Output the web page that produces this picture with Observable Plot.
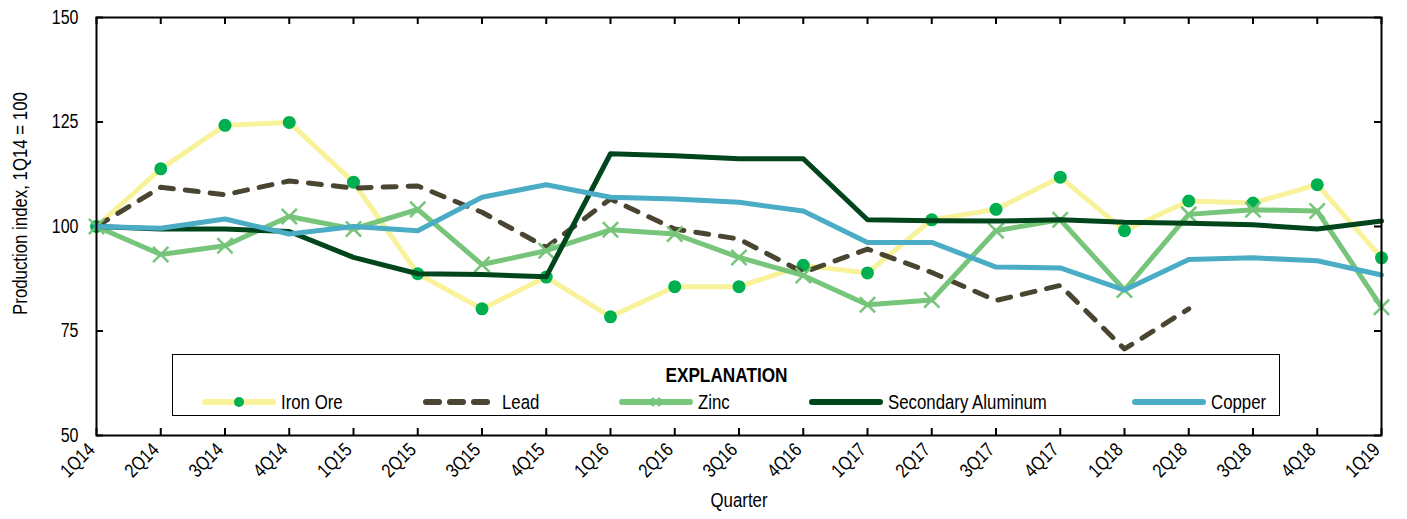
<!DOCTYPE html>
<html>
<head>
<meta charset="utf-8">
<script src="https://cdn.jsdelivr.net/npm/d3@7"></script>
<script src="https://cdn.jsdelivr.net/npm/@observablehq/plot@0.6"></script>
<style>
  body { margin: 0; background: #fff; }
  #wrap { position: relative; width: 1407px; height: 519px; font-family: "Liberation Sans", Arial, sans-serif; }
  #legend { position: absolute; left: 172px; top: 354px; width: 1108px; height: 62px; box-sizing: border-box; border: 1.5px solid #000; background: #fff; }
  #legend .title { position: absolute; left: 0; right: 0; top: 9px; text-align: center; font-weight: bold; font-size: 21px; line-height: 22px; }
  #legend .title span { display: inline-block; transform: scaleX(0.82); transform-origin: center; }
  #legend .item { position: absolute; top: 36px; height: 22px; display: flex; align-items: center; font-size: 20.5px; line-height: 22px; white-space: nowrap; }
  #legend .item span { display: inline-block; transform: scaleX(0.82); transform-origin: left center; }
  #legend svg { display: block; margin-right: 5px; }
</style>
</head>
<body>
<div id="wrap"></div>
<script>
const quarters = ["1Q14","2Q14","3Q14","4Q14","1Q15","2Q15","3Q15","4Q15","1Q16","2Q16","3Q16","4Q16","1Q17","2Q17","3Q17","4Q17","1Q18","2Q18","3Q18","4Q18","1Q19"];
const ironOre = [100,113.8,124.2,124.9,110.6,88.7,80.3,87.9,78.4,85.6,85.6,90.7,88.9,101.6,104.1,111.8,99.0,106.1,105.6,110.0,92.5];
const lead = [100,109.4,107.6,110.9,109.2,109.7,103.4,95.0,106.6,99.4,97.0,89.0,94.6,89.0,82.3,85.9,70.7,80.3];
const zinc = [100,93.3,95.4,102.4,99.4,104.1,90.9,94.2,99.2,98.2,92.6,88.3,81.3,82.4,99.0,101.6,84.8,102.9,104.0,103.7,80.7];
const secondaryAluminum = [100,99.4,99.4,98.8,92.6,88.7,88.5,88.0,117.4,116.9,116.2,116.2,101.6,101.4,101.3,101.6,101.0,100.8,100.4,99.4,101.3];
const copper = [100,99.6,101.8,98.2,100,99.0,107.0,110.0,107.0,106.6,105.8,103.7,96.2,96.2,90.3,90.1,84.8,92.1,92.5,91.8,88.4];
const yTicks = [50, 75, 100, 125, 150];
const seriesNames = ["Iron Ore", "Lead", "Zinc", "Secondary Aluminum", "Copper"];

const colors = {
  "Iron Ore": "#F8F29B",
  "Iron Ore marker": "#00B050",
  "Lead": "#4A4530",
  "Zinc": "#77C57A",
  "Secondary Aluminum": "#00451C",
  "Copper": "#4BACC6"
};

const rows = (vals) => vals.map((v, i) => ({i, v}));
const idx = quarters.map((q, i) => i);

const W = 1407, H = 519, mL = 96, mR = 26, mT = 17, mB = 84;
const plotW = W - mL - mR, plotH = H - mT - mB;
const tickLen = 7;
const tx = tickLen / plotW * (quarters.length - 1);
const ty = tickLen / plotH * 100;
const font = '"Liberation Sans", Arial, sans-serif';
const narrow = 0.82;

const chart = Plot.plot({
  width: W, height: H,
  marginLeft: mL, marginRight: mR, marginTop: mT, marginBottom: mB,
  style: { fontFamily: font, fontSize: "19.5px", color: "#000", background: "#fff" },
  x: { type: "linear", domain: [0, quarters.length - 1] },
  y: { domain: [50, 150] },
  marks: [
    Plot.axisX({ ticks: idx, tickFormat: (i) => quarters[i], tickRotate: -45, tickSize: 0, tickPadding: 11, dx: -5, label: null, fontSize: 19.5 }),
    Plot.axisY({ ticks: yTicks, tickSize: 0, tickPadding: 18, label: null, fontSize: 19.5 }),
    // inward ticks
    Plot.ruleX(idx, { x: d => d, y1: 50, y2: 50 + ty, stroke: "#000", strokeWidth: 2 }),
    Plot.ruleX(idx, { x: d => d, y1: 150, y2: 150 - ty, stroke: "#000", strokeWidth: 2 }),
    Plot.ruleY(yTicks, { y: d => d, x1: 0, x2: tx, stroke: "#000", strokeWidth: 2 }),
    Plot.ruleY(yTicks, { y: d => d, x1: quarters.length - 1, x2: quarters.length - 1 - tx, stroke: "#000", strokeWidth: 2 }),
    // series
    Plot.line(rows(ironOre), { x: "i", y: "v", stroke: colors["Iron Ore"], strokeWidth: 5 }),
    Plot.dot(rows(ironOre), { x: "i", y: "v", r: 6.5, fill: colors["Iron Ore marker"] }),
    Plot.line(rows(lead), { x: "i", y: "v", stroke: colors["Lead"], strokeWidth: 5, strokeDasharray: "13,12", strokeLinecap: "round" }),
    Plot.line(rows(zinc), { x: "i", y: "v", stroke: colors["Zinc"], strokeWidth: 5 }),
    Plot.dot(rows(zinc), { x: "i", y: "v", symbol: "times", r: 7, stroke: colors["Zinc"], strokeWidth: 2.5 }),
    Plot.line(rows(secondaryAluminum), { x: "i", y: "v", stroke: colors["Secondary Aluminum"], strokeWidth: 5 }),
    Plot.line(rows(copper), { x: "i", y: "v", stroke: colors["Copper"], strokeWidth: 5 }),
    Plot.frame({ stroke: "#000", strokeWidth: 2 }),
    Plot.text(["Production index, 1Q14 = 100"], { frameAnchor: "left", textAnchor: "middle", rotate: -90, dx: -76, dy: -23, fontSize: 20.5, fill: "#000" }),
    Plot.text(["Quarter"], { frameAnchor: "bottom", textAnchor: "middle", dy: 71, fontSize: 20.5, fill: "#000" })
  ]
});

const wrap = document.getElementById("wrap");
wrap.appendChild(chart);

// emulate a narrow face by compressing glyphs horizontally (in each text's own direction)
chart.querySelectorAll("text").forEach((t) => {
  const tr = t.getAttribute("transform") || "";
  if (tr.includes("rotate")) {
    t.setAttribute("transform", tr + ` scale(${narrow},1)`);
  } else {
    const len = t.getComputedTextLength();
    if (len > 0) {
      t.setAttribute("textLength", (len * narrow).toFixed(2));
      t.setAttribute("lengthAdjust", "spacingAndGlyphs");
    }
  }
});

// Legend (overlay inside plot area)
const legend = document.createElement("div");
legend.id = "legend";
legend.innerHTML = '<div class="title"><span>EXPLANATION</span></div>';
const itemLeft = [29, 250, 446, 636, 959]; // relative to legend box
seriesNames.forEach((name, k) => {
  const item = document.createElement("div");
  item.className = "item";
  item.style.left = itemLeft[k] + "px";
  let sw = '<svg width="74" height="12" viewBox="0 0 74 12">';
  if (name === "Lead") {
    sw += `<line x1="3" y1="6" x2="71" y2="6" stroke="${colors[name]}" stroke-width="6" stroke-linecap="round" stroke-dasharray="13,11"/>`;
  } else {
    sw += `<line x1="3" y1="6" x2="71" y2="6" stroke="${colors[name]}" stroke-width="6" stroke-linecap="round"/>`;
  }
  if (name === "Iron Ore") sw += `<circle cx="37" cy="6" r="5" fill="${colors["Iron Ore marker"]}"/>`;
  if (name === "Zinc") sw += `<path d="M33,2L41,10M41,2L33,10" stroke="${colors[name]}" stroke-width="2.5"/>`;
  sw += '</svg>';
  item.innerHTML = sw + '<span>' + name + '</span>';
  legend.appendChild(item);
});
wrap.appendChild(legend);
</script>
</body>
</html>
